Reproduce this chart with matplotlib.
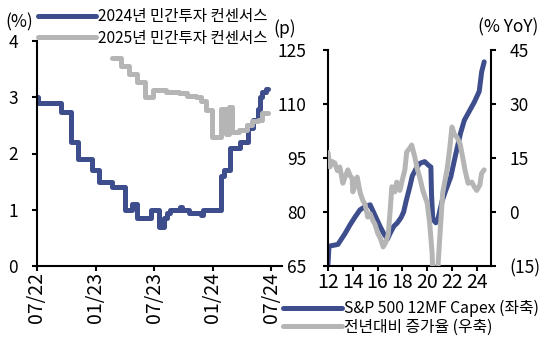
import matplotlib
matplotlib.use("Agg")
import matplotlib.pyplot as plt
from matplotlib.lines import Line2D

plt.rcParams["font.family"] = ["Noto Sans CJK KR", "DejaVu Sans"]

BLUE = "#3E4E8C"
GRAY = "#B5B5B5"
LW = 3.6

# ---- left panel: 2024 / 2025 private investment consensus (%), months since 07/22 ----
cons24_month = [0, 0.15, 2.5, 3.5, 4.2, 5.6, 6.4, 7.7, 9.0, 9.7, 10.2, 11.7, 12.5, 13.0,
                13.3, 13.6, 14.6, 14.9, 15.6, 16.8, 17.0, 18.8, 19.2, 19.8, 20.8, 21.6,
                22.1, 22.6, 22.8, 23.1, 23.5, 23.7]
cons24_value = [3.0, 2.9, 2.73, 2.2, 1.9, 1.7, 1.5, 1.4, 1.0, 1.1, 0.85, 1.0, 0.7, 0.85,
                0.95, 1.0, 1.05, 1.0, 0.95, 0.9, 1.0, 1.6, 1.7, 2.1, 2.2, 2.45,
                2.6, 2.8, 3.0, 3.1, 3.15, 3.15]

cons25_month = [7.7, 8.6, 9.4, 10.2, 11.1, 11.9, 13.2, 14.5, 15.4, 16.3, 16.8, 17.3, 17.9,
                18.8, 19.4, 19.7, 20.0, 20.7, 21.5, 22.0, 22.6, 23.0, 23.7]
cons25_value = [3.69, 3.55, 3.42, 3.27, 3.0, 3.13, 3.09, 3.07, 3.02, 3.0, 2.93, 2.77, 2.3,
                2.8, 2.35, 2.83, 2.38, 2.42, 2.5, 2.57, 2.6, 2.72, 2.72]

left_ticks = [0, 6, 12, 18, 24]
left_ticklabels = ["07/22", "01/23", "07/23", "01/24", "07/24"]

# ---- right panel: S&P 500 12MF capex (p, left axis) and YoY growth (%, right axis) ----
capex_year = [2012.0, 2012.08, 2012.8, 2013.37, 2013.77, 2014.18, 2014.58, 2015.0, 2015.4,
              2015.8, 2016.2, 2016.5, 2016.8, 2017.0, 2017.3, 2017.6, 2017.9, 2018.1,
              2018.3, 2018.6, 2018.8, 2019.1, 2019.4, 2019.8, 2020.1, 2020.3, 2020.35,
              2020.45, 2020.7, 2020.9, 2021.2, 2021.5, 2021.9, 2022.3, 2022.7, 2023.0,
              2023.4, 2023.8, 2024.2, 2024.4, 2024.6]
capex_value = [65.5, 70.5, 71, 74, 76.4, 78.6, 80.6, 81.5, 82,
               79, 76, 74, 72.5, 74, 76, 77, 78.5, 80,
               83, 87, 90, 92, 93.5, 94, 93, 92.5, 85,
               78, 77, 78.5, 83, 86, 89.7, 96, 102, 105.5,
               108, 110.5, 113.5, 119, 121.7]

yoy_year = [2012.0, 2012.15, 2012.35, 2012.55, 2012.75, 2012.95, 2013.2, 2013.35, 2013.5,
            2013.6, 2013.8, 2013.95, 2014.0, 2014.2, 2014.35, 2014.6, 2014.8, 2015.0,
            2015.2, 2015.4, 2015.6, 2015.8, 2016.0, 2016.25, 2016.45, 2016.65, 2016.85,
            2017.0, 2017.15, 2017.4, 2017.55, 2017.8, 2018.0, 2018.2, 2018.35, 2018.55,
            2018.75, 2019.0, 2019.2, 2019.4, 2019.65, 2020.0, 2020.2, 2020.4, 2020.5,
            2020.75, 2021.0, 2021.25, 2021.6, 2021.8, 2022.0, 2022.2, 2022.4, 2022.65,
            2022.8, 2023.05, 2023.3, 2023.6, 2023.8, 2024.0, 2024.25, 2024.4, 2024.6]
yoy_value = [16.5, 12.5, 14.0, 13.6, 11.5, 12.5, 8, 9.5, 10.8,
             11.7, 10.0, 9.4, 5.6, 7.5, 9.7, 5.3, 3.3, 2.0,
             -1.4, -0.5, -2.2, -3.5, -5.8, -7.5, -9.7, -8.5, -6.4,
             -0.3, 7, 5.6, 8.3, 6, 9.0, 11.7, 16.7, 17.5,
             18.6, 15.3, 12.0, 9.7, 6, 2.5, -3, -11.4, -22,
             -22, -8, 5.3, 11.7, 17, 23.6, 21.5, 20.8, 19,
             16.4, 11.7, 8, 8.3, 7, 6, 7.5, 10.8, 11.7]

year_ticks = [2012, 2014, 2016, 2018, 2020, 2022, 2024]
year_ticklabels = ["12", "14", "16", "18", "20", "22", "24"]

fig = plt.figure(figsize=(5.41, 3.38), dpi=100)
W, H = 541, 338


def style_axis(ax):
    ax.tick_params(direction="out", length=3.6, width=1.5, labelsize=12.5)
    ax.tick_params(axis="x", labelsize=14, pad=1)
    for s in ax.spines.values():
        s.set_linewidth(1.5)
    ax.spines["top"].set_visible(False)


line_kw = dict(lw=LW, solid_joinstyle="round", solid_capstyle="round")

# left panel
ax1 = fig.add_axes([37 / W, 1 - 266 / H, (282 - 37) / W, (266 - 41) / H])
ax1.plot(cons24_month, cons24_value, drawstyle="steps-post", color=BLUE,
         label="2024년 민간투자 컨센서스", **line_kw)
ax1.plot(cons25_month, cons25_value, drawstyle="steps-post", color=GRAY,
         label="2025년 민간투자 컨센서스", **line_kw)
ax1.set_xlim(0, 25.1)
ax1.set_ylim(0, 4)
ax1.set_yticks([0, 1, 2, 3, 4])
ax1.set_xticks(left_ticks)
ax1.set_xticklabels(left_ticklabels, rotation=90)
style_axis(ax1)
ax1.spines["right"].set_visible(False)
ax1.tick_params(axis="y", pad=10)

fig.text(5 / W, 1 - 22 / H, "(%)", fontsize=12.5, va="center", ha="left")
ax1.legend(loc="upper left", bbox_to_anchor=(38 / W, 1 - 8 / H), bbox_transform=fig.transFigure,
           frameon=False, fontsize=11.2, handlelength=3.7, handletextpad=0.15,
           labelspacing=0.3, borderpad=0, borderaxespad=0)

# right panel
ax2 = fig.add_axes([328 / W, 1 - 266 / H, (491 - 328) / W, (266 - 50) / H])
ax2.plot(capex_year, capex_value, color=BLUE, **line_kw)
ax2.set_xlim(2012, 2025.15)
ax2.set_ylim(65, 125)
ax2.set_yticks([65, 80, 95, 110, 125])
ax2.set_xticks(year_ticks)
ax2.set_xticklabels(year_ticklabels)
style_axis(ax2)
ax2.spines["right"].set_visible(False)
ax2.tick_params(axis="y", pad=12)

ax3 = ax2.twinx()
ax3.plot(yoy_year, yoy_value, color=GRAY, **line_kw)
ax3.set_ylim(-15, 45)
ax3.set_yticks([-15, 0, 15, 30, 45])
ax3.set_yticklabels(["(15)", "0", "15", "30", "45"])
style_axis(ax3)
ax3.spines["left"].set_visible(False)
ax3.spines["bottom"].set_visible(False)
ax3.tick_params(axis="y", pad=9.5)

fig.text(273 / W, 1 - 29 / H, "(p)", fontsize=12.5, va="center", ha="left")
fig.text(538 / W, 1 - 27 / H, "(% YoY)", fontsize=12.5, va="center", ha="right")

handles = [Line2D([], [], color=BLUE, lw=LW, solid_capstyle="round"),
           Line2D([], [], color=GRAY, lw=LW, solid_capstyle="round")]
fig.legend(handles, ["S&P 500 12MF Capex (좌축)", "전년대비 증가율 (우축)"],
           loc="upper left", bbox_to_anchor=(283 / W, 1 - 300 / H),
           frameon=False, fontsize=11.4, handlelength=3.7, handletextpad=0.15,
           labelspacing=0.1, borderpad=0, borderaxespad=0)

fig.savefig("out.png", dpi=100)
